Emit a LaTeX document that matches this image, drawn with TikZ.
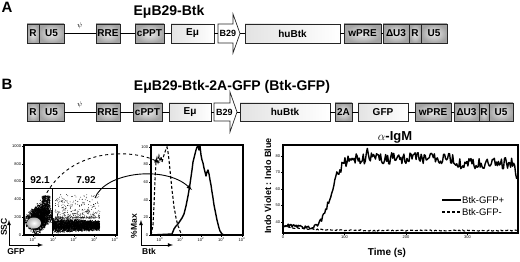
\documentclass[tikz,border=0pt]{standalone}
\usepackage{fontspec}
\setmainfont{Liberation Sans}

\begin{document}
\begin{tikzpicture}[x=1pt, y=-1pt,
		box/.style = {draw=black!85, line width=0.7pt, inner sep=0pt,
				minimum height=19pt, font=\bfseries\fontsize{10}{10}\selectfont},
		seg/.style = {box, inner color=gray!15, outer color=gray!72},
		wseg/.style = {box, left color=gray!22, right color=white},
		promoter/.style = {draw=black!85, line width=0.7pt, fill=white},
		link/.style = {line width=0.6pt},
		ttl/.style = {font=\bfseries\fontsize{14}{16}\selectfont},
		panel/.style = {font=\bfseries\fontsize{15}{17}\selectfont},
		frame/.style = {line width=1.1pt},
		tick/.style = {font=\fontsize{4}{4.5}\selectfont, inner sep=0.8pt},
		axlbl/.style = {font=\bfseries\fontsize{8.5}{9}\selectfont, inner sep=0pt},
		gate/.style = {font=\bfseries\fontsize{10}{11}\selectfont},
		axarrow/.style = {latex-latex, line width=0.8pt},
		ptrace/.style = {line width=1.4pt, line join=round},
		ntrace/.style = {line width=1.1pt, dash pattern=on 3pt off 2pt},
		legend/.style = {font=\fontsize{9.5}{10}\selectfont, inner sep=1pt},
		dot/.style = {fill=black},
		declare function = {sig(\s)=1/(1+exp(min(9,(78-\s)/8.5)));}
	]
	\useasboundingbox (0,0) rectangle (520,262);

	\node[panel] (panA) at (7,7) {A};
	\node[ttl] (ttlA) at (169,12) {EμB29-Btk};
	\node[seg, minimum width=12pt] (rA) at (33,33.5) {R};
	\node[seg, minimum width=25pt] (u5A) at (51.5,33.5) {U5};
	\node[seg, minimum width=24pt] (rreA) at (108,33.5) {RRE};
	\node[seg, minimum width=29pt] (cpptA) at (149.5,33.5) {cPPT};
	\node[wseg, minimum width=43pt] (emuA) at (192.5,33.5) {Eμ};
	\draw[promoter] (218,24) -- (233,24) -- (233,14) -- (240,33.5) -- (233,53) -- (233,43) -- (218,43) -- cycle;
	\coordinate (b29tailA) at (218,33.5);
	\coordinate (b29tipA) at (240,33.5);
	\node[font=\bfseries\fontsize{9}{10}\selectfont] (b29A) at (228,33.5) {B29};
	\node[wseg, minimum width=95pt] (hubtkA) at (292.5,33.5) {huBtk};
	\node[seg, minimum width=37pt] (wpreA) at (362.5,33.5) {wPRE};
	\node[seg, minimum width=26pt] (du3A) at (396,33.5) {ΔU3};
	\node[seg, minimum width=12pt] (r2A) at (415,33.5) {R};
	\node[seg, minimum width=26pt] (u52A) at (434,33.5) {U5};
	\draw[link] (u5A) -- (rreA) node[midway, above=1pt, font=\scriptsize] {$\psi$};
	\draw[link] (rreA) -- (cpptA);
	\draw[link] (cpptA) -- (emuA);
	\draw[link] (emuA) -- (b29tailA);
	\draw[link] (b29tipA) -- (hubtkA);
	\draw[link] (hubtkA) -- (wpreA);
	\draw[link] (wpreA) -- (du3A);

	\node[panel] (panB) at (7,84) {B};
	\node[ttl] (ttlB) at (232,87) {EμB29-Btk-2A-GFP (Btk-GFP)};
	\node[seg, minimum width=12pt, minimum height=18pt] (rB) at (33,112) {R};
	\node[seg, minimum width=25pt, minimum height=18pt] (u5B) at (51.5,112) {U5};
	\node[seg, minimum width=24pt, minimum height=18pt] (rreB) at (108,112) {RRE};
	\node[seg, minimum width=29pt, minimum height=18pt] (cpptB) at (147.5,112) {cPPT};
	\node[wseg, minimum width=42pt, minimum height=18pt] (emuB) at (190,112) {Eμ};
	\draw[promoter] (214,103) -- (230,103) -- (230,92) -- (237,112) -- (230,132) -- (230,121) -- (214,121) -- cycle;
	\coordinate (b29tailB) at (214,112);
	\coordinate (b29tipB) at (237,112);
	\node[font=\bfseries\fontsize{9}{10}\selectfont] (b29B) at (224.5,112) {B29};
	\node[wseg, minimum width=90pt, minimum height=18pt] (hubtkB) at (285,112) {huBtk};
	\node[seg, minimum width=17pt, minimum height=18pt] (p2aB) at (343.5,112) {2A};
	\node[wseg, minimum width=50pt, minimum height=18pt] (gfpB) at (383,112) {GFP};
	\node[seg, minimum width=36pt, minimum height=18pt] (wpreB) at (433,112) {wPRE};
	\node[seg, minimum width=25pt, minimum height=18pt] (du3B) at (466.5,112) {ΔU3};
	\node[seg, minimum width=10pt, minimum height=18pt] (r2B) at (484,112) {R};
	\node[seg, minimum width=24pt, minimum height=18pt] (u52B) at (501,112) {U5};
	\draw[link] (u5B) -- (rreB) node[midway, above=1pt, font=\scriptsize] {$\psi$};
	\draw[link] (rreB) -- (cpptB);
	\draw[link] (cpptB) -- (emuB);
	\draw[link] (emuB) -- (b29tailB);
	\draw[link] (b29tipB) -- (hubtkB);
	\draw[link] (hubtkB) -- (p2aB);
	\draw[link] (p2aB) -- (gfpB);
	\draw[link] (gfpB) -- (wpreB);
	\draw[link] (wpreB) -- (du3B);

	\pgfmathsetseed{42}
	\foreach \i in {1,...,2200}{
		\pgfmathsetmacro{\ga}{rand+rand}
		\pgfmathsetmacro{\gb}{rand+rand}
		\pgfmathsetmacro{\px}{min(51.5,max(24.8,39+5.5*\ga+4*\gb))}
		\pgfmathsetmacro{\py}{min(233.5,max(194,218-5.5*\ga+4.5*\gb))}
		\fill[dot] (\px,\py) circle (0.55pt);
	}
	\foreach \i in {1,...,400}{
		\pgfmathsetmacro{\px}{min(51.5,46+4*rand)}
		\pgfmathsetmacro{\py}{205+9*rand}
		\fill[dot] (\px,\py) circle (0.5pt);
	}
	\foreach \i in {1,...,2600}{
		\pgfmathsetmacro{\px}{52.5+47*rnd}
		\pgfmathsetmacro{\py}{min(233.5,225.5+(4.5*rand+2.5*rand)*(1.15-(\px-52)/110))}
		\fill[dot] (\px,\py) circle (0.55pt);
	}
	\foreach \i in {1,...,400}{
		\pgfmathsetmacro{\px}{55+45*rnd}
		\pgfmathsetmacro{\py}{218-24*rnd^3}
		\fill[dot] (\px,\py) circle (0.4pt);
	}
	\shade[inner color=white, outer color=gray!60] (34,223) ellipse [x radius=7pt, y radius=5.5pt];
	\draw[frame] (24,145) rectangle (117,235);
	\draw[line width=0.9pt] (24,188) -- (117,188);
	\draw[line width=0.9pt] (52,188) -- (52,235);
	\node[gate] (negpct) at (40,180) {92.1};
	\node[gate] (pospct) at (86,180) {7.92};
	\foreach \v in {0,200,...,1000}
		\draw (24,{235-0.089*\v}) -- ++(-2,0) node[tick, left] {\v};
	\foreach \k in {0,...,4}
		\draw ({33+20.5*\k},235) -- ++(0,2) node[tick, below] {10\textsuperscript{\k}};
	\coordinate (sscend) at (9,220);
	\coordinate (gfpend) at (43,245);
	\draw[axarrow] (sscend) |- (gfpend);
	\node[axlbl, rotate=90] (ssclbl) at (4,227) {SSC};
	\node[axlbl] (gfplbl) at (16,252) {GFP};

	\draw[frame] (151,145) rectangle (243,235);
	\foreach \v in {0,20,...,100}
		\draw (151,{235-0.88*\v}) -- ++(-2,0) node[tick, left] {\v};
	\foreach \k in {0,...,4}
		\draw ({160+20.5*\k},235) -- ++(0,2) node[tick, below] {10\textsuperscript{\k}};
	\draw[ntrace] (151,235) -- (153,225) -- (154,205) -- (155,180) -- (156,162) -- (157,158)
		-- (158,162) -- (159,156) -- (160,160) -- (161,157) -- (162,162) -- (163,158) -- (164,155)
		-- (165,152) -- (166,149) -- (167,147) -- (168,152) -- (169,160) -- (170,170) -- (171,180)
		-- (172,190) -- (173,198) -- (174,207) -- (175,212) -- (176,218) -- (177,222) -- (178,226)
		-- (179,228) -- (180,231) -- (181,233) -- (183,235);
	\draw[ptrace] (151,235) -- (172,234) -- (174,229) -- (176,226) -- (178,224) -- (180,221)
		-- (182,218) -- (184,214) -- (186,206) -- (188,196) -- (190,184) -- (192,170) -- (193,162)
		-- (194,158) -- (195,154) -- (196,150) -- (197,147) -- (198,146) -- (199,150) -- (200,146)
		-- (201,155) -- (202,160) -- (203,163) -- (204,168) -- (205,172) -- (206,176) -- (207,172)
		-- (208,170) -- (209,174) -- (210,180) -- (211,185) -- (212,192) -- (213,198) -- (214,205)
		-- (215,210) -- (216,215) -- (217,220) -- (218,224) -- (219,228) -- (220,231) -- (222,234)
		-- (224,235);
	\coordinate (maxend) at (141,220);
	\coordinate (btkend) at (173,245);
	\draw[axarrow] (maxend) |- (btkend);
	\node[axlbl, rotate=90] (maxlbl) at (134,226) {\%Max};
	\node[axlbl] (btklbl) at (149,251) {Btk};

	\coordinate (negsrc) at (44,198);
	\coordinate (negtip) at (160,163);
	\draw[dashed, line width=0.9pt, -latex] (negsrc) .. controls (70,145) and (135,150) .. (negtip);
	\coordinate (possrc) at (95,198);
	\coordinate (postip) at (192,190);
	\draw[line width=0.9pt, -latex] (possrc) .. controls (105,172) and (165,165) .. (postip);

	\node[font=\bfseries\fontsize{13}{14}\selectfont] (ttlC) at (395,137) {$\alpha$-IgM};
	\draw[frame] (283,145) rectangle (518,233);
	\begin{scope}[shift={(283,156)}, x=0.615pt, y=1.65pt]
		\foreach \v in {40,50,...,80}
			\draw (0,\v-80) -- ++(-2pt,0) node[tick, left] {\v};
		\foreach \t in {0,100,...,300}
			\draw (\t,-46.67) -- ++(0,-2pt) node[tick, below] {\t};
		\draw[ptrace] plot[domain=0:380, samples=231, variable=\t]
			(\t, {38.5-3*min(\t,55)/55+43*sig(\t)-3*(\t>280)+6*(abs(\t-136)<2)-7*(\t>378)+(0.9+2.6*sig(\t))*rand-80});
		\draw[ntrace] plot[domain=0:380, samples=191, variable=\t]
			(\t, {34.8+2.6*exp(-\t/40)+0.35*rand-80});
	\end{scope}
	\node[font=\bfseries\fontsize{9}{10}\selectfont, rotate=90] (ylblC) at (268,186) {Indo Violet : Indo Blue};
	\node[font=\bfseries\fontsize{10}{11}\selectfont] (xlblC) at (387,253) {Time (s)};
	\coordinate (posline) at (442,200);
	\node[legend, anchor=west] (poslbl) at (461,200) {Btk-GFP+};
	\draw[ptrace] (posline) -- (poslbl.west);
	\coordinate (negline) at (442,212);
	\node[legend, anchor=west] (neglbl) at (461,212) {Btk-GFP-};
	\draw[ntrace] (negline) -- (neglbl.west);
\end{tikzpicture}
\end{document}
